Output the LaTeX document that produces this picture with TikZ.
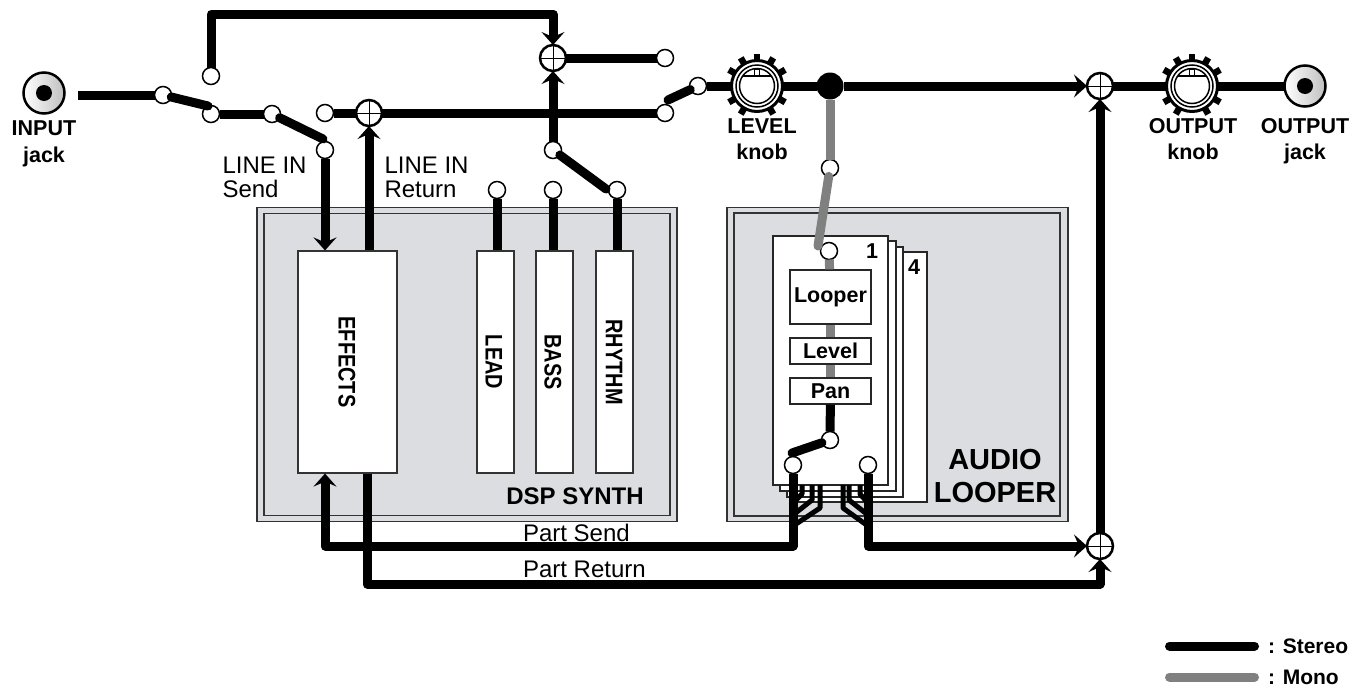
\documentclass[tikz,border=0pt]{standalone}
\usepackage{fontspec}
\setmainfont{Liberation Sans}
\newfontfamily\stripfont[FakeStretch=0.83]{Liberation Sans}
\usepackage{xcolor}
\definecolor{panelgray}{RGB}{220,221,224}
\definecolor{monogray}{RGB}{128,128,128}
\usetikzlibrary{arrows.meta, calc}
\newcommand{\knobface}[1]{%
  \foreach \ang in {-90,-60,-30,60,120,-120,-150,30,150}
    \draw[line width=6.5pt] ($(#1)+(\ang:24)$) -- ($(#1)+(\ang:32.5)$);
  \draw[line width=3pt, fill=white] (#1) circle (25.5);
  \draw[line width=1.5pt] (#1) circle (21);
  \draw[line width=1.5pt] (#1) circle (17.5);
  \draw[line width=1.3pt] ($(#1)+(-14.4,-10)$) -- ($(#1)+(14.4,-10)$);
  \draw[line width=1.1pt] ($(#1)+(-2.2,-17)$) rectangle ($(#1)+(2.2,-10)$);
}
\begin{document}
\begin{tikzpicture}[x=1pt, y=-1pt,
    panel/.style={rectangle, draw=black!80, line width=1.4pt, fill=panelgray, inner sep=0pt},
    pagebox/.style={rectangle, draw=black!85, line width=1.3pt, fill=white, inner sep=0pt},
    strip/.style={rectangle, draw=black!80, line width=1.1pt, fill=white, inner sep=0pt,
      minimum width=37pt, minimum height=222pt},
    stripname/.style={rotate=-90, font=\stripfont\fontsize{24}{24}\selectfont\bfseries},
    terminal/.style={circle, draw, line width=1.5pt, fill=white, inner sep=0pt, outer sep=0pt, minimum size=17pt},
    sumnode/.style={circle, draw, line width=2.5pt, fill=white, inner sep=0pt, outer sep=0pt, minimum size=26pt,
      path picture={\draw[line width=1pt]
        (path picture bounding box.north) -- (path picture bounding box.south)
        (path picture bounding box.west) -- (path picture bounding box.east);}},
    jack/.style={circle, draw, line width=2.5pt, inner sep=0pt, outer sep=0pt, minimum size=41pt,
      left color=white, right color=gray!50,
      path picture={\fill (path picture bounding box.center) circle (8);}},
    knob/.style={circle, inner sep=0pt, outer sep=0pt, minimum size=50pt},
    wire/.style={line width=9pt, line join=round},
    monowire/.style={wire, monogray},
    armwire/.style={wire, line cap=round},
    branch/.style={line width=5pt, line join=round},
    arrow/.style={wire, -{Stealth[length=13pt, width=23pt, inset=5pt]}},
    biglabel/.style={font=\bfseries\fontsize{21.5}{26.5}\selectfont, align=center},
    boxlabel/.style={font=\bfseries\fontsize{21.5}{21.5}\selectfont},
    plainlabel/.style={font=\fontsize{24}{24}\selectfont, align=left, anchor=west},
    legendlabel/.style={font=\bfseries\fontsize{21}{21}\selectfont, anchor=west}
]
\useasboundingbox (0,0) rectangle (1363,686);

% panels
\node[panel, minimum width=420pt, minimum height=314pt] (dspouter) at (467,364.5) {};
\node[panel, minimum width=406pt, minimum height=302pt] (dspinner) at (467,364.5) {};
\node[panel, minimum width=341pt, minimum height=314pt] (loopouter) at (897.5,364.5) {};
\node[panel, minimum width=326pt, minimum height=303pt] (loopinner) at (897,364.5) {};

% pages, back to front
\node[pagebox, minimum width=132pt, minimum height=250pt] (page4) at (861,377) {};
\node[pagebox, minimum width=116pt, minimum height=250pt] (page3) at (845,372) {};
\node[pagebox, minimum width=116pt, minimum height=250pt] (page2) at (838,366) {};
\node[pagebox, minimum width=115pt, minimum height=249pt] (page1) at (830.5,360.5) {};
\node[boxlabel] (num1) at (872,251) {1};
\node[boxlabel] (num4) at (914,267) {4};

% blocks
\node[strip, minimum width=99pt] (fxbox) at (347.5,362) {};
\node[stripname] (fxname) at (347,362) {EFFECTS};
\node[strip] (leadbox) at (495.5,362) {};
\node[stripname] (leadname) at (494,362) {LEAD};
\node[strip] (bassbox) at (554.5,362) {};
\node[stripname] (bassname) at (553,362) {BASS};
\node[strip] (rhythmbox) at (614.5,362) {};
\node[stripname] (rhythmname) at (614,362) {RHYTHM};
\node[pagebox, boxlabel, minimum width=81pt, minimum height=54pt] (looperbox) at (830.5,297) {Looper};
\node[pagebox, boxlabel, minimum width=81pt, minimum height=26pt] (levelbox) at (830.5,351) {Level};
\node[pagebox, boxlabel, minimum width=81pt, minimum height=26pt] (panbox) at (830.5,391) {Pan\hspace{6pt}};

% terminals
\node[terminal] (tin) at (163,95) {};
\node[terminal] (tmain) at (211,114) {};
\node[terminal] (tbypass) at (211,76) {};
\node[terminal] (tline) at (272,114) {};
\node[terminal] (tsend) at (325,150) {};
\node[terminal] (treturn) at (325,113) {};
\node[terminal] (tsum) at (665,58) {};
\node[terminal] (tdry) at (665,113) {};
\node[terminal] (tlevel) at (698,86) {};
\node[terminal] (tsynth) at (553,150) {};
\node[terminal] (tlead) at (497,190) {};
\node[terminal] (tbass) at (553,190) {};
\node[terminal] (trhythm) at (617,190) {};
\node[terminal] (tmono) at (830,168) {};
\node[terminal] (tloop) at (829,251) {};
\node[terminal] (tpan) at (830,440) {};
\node[terminal] (tpartl) at (793,465) {};
\node[terminal] (tpartr) at (868,465) {};

% mixers, jacks, knobs
\node[sumnode] (sumret) at (369,113) {};
\node[sumnode] (sumtop) at (553,58) {};
\node[sumnode] (sumout) at (1100,86) {};
\node[sumnode] (sumpart) at (1100,546) {};
\node[circle, fill=black, inner sep=0pt, outer sep=0pt, minimum size=27pt] (splitdot) at (830,86) {};
\node[jack] (injack) at (44,93) {};
\node[jack] (outjack) at (1305,86) {};
\node[knob] (levelknob) at (757,86) {};
\node[knob] (outknob) at (1192,86) {};

% free ends
\coordinate (instub) at (78,95);
\coordinate (armmain) at (208,106);
\coordinate (armsend) at (323,139);
\coordinate (armdry) at (668,100);
\coordinate (armmono) at (818,246);
\coordinate (armpart) at (792,453);
\coordinate (armrhythm) at (606,189);
\coordinate (topleft) at (211,14);
\coordinate (topright) at (553,14);

% stereo lines
\draw[wire] (instub) -- (tin);
\draw[armwire] (tin) -- (armmain);
\draw[wire] (tmain) -- (tline);
\draw[armwire] (tline) -- (armsend);
\draw[wire] (treturn) -- (sumret);
\draw[wire] (sumret) -- (tdry);
\draw[armwire] (tlevel) -- (armdry);
\draw[wire] (tsum) -- (sumtop);
\draw[arrow] (tbypass) -- (topleft) -- (topright) -- (sumtop);
\draw[arrow] (tsynth) -- (sumtop);
\draw[armwire] (tsynth) -- (armrhythm);
\draw[arrow] (tsend) -- (tsend |- fxbox.north);
\draw[arrow] (sumret |- fxbox.north) -- (sumret);
\draw[wire] (tlead) -- (tlead |- leadbox.north);
\draw[wire] (tbass) -- (tbass |- bassbox.north);
\draw[wire] (trhythm) -- (trhythm |- rhythmbox.north);
\draw[wire] (tlevel) -- (levelknob);
\draw[wire] (levelknob) -- (splitdot);
\draw[arrow] (splitdot) -- (sumout);
\draw[wire] (sumout) -- (outknob);
\draw[wire] (outknob) -- (outjack);
\draw[arrow] (sumpart) -- (sumout);

% mono lines
\draw[monowire] (splitdot) -- (tmono);
\draw[monowire, line cap=round] (tmono) -- (armmono);
\draw[monowire] (tloop) -- (looperbox);
\draw[monowire] (looperbox) -- (levelbox);
\draw[monowire] (levelbox) -- (panbox);

% part busses
\draw[wire] (panbox) -- (tpan);
\draw[armwire] (tpan) -- (armpart);
\foreach \bx/\by/\jy in {802/494/503, 812/500/515, 820/508/526}
  \draw[branch] (\bx,485) -- (\bx,\by) -- (tpartl |- {0,\jy});
\foreach \bx/\by/\jy in {860/494/503, 849/500/515, 843/508/526}
  \draw[branch] (\bx,485) -- (\bx,\by) -- (tpartr |- {0,\jy});
\draw[arrow] (tpartl) |- (tsend |- sumpart) -- (tsend |- fxbox.south);
\draw[arrow] (tpartr) |- (sumpart);
\coordinate (retleft) at (367,584);
\draw[arrow] (fxbox.south -| retleft) -- (retleft) -- (sumpart |- retleft) -- (sumpart);

% knob faces on top of the lines
\knobface{levelknob}
\knobface{outknob}

% labels
\node[biglabel] (inlabel) at (44,144) {INPUT\\jack};
\node[biglabel] (levellabel) at (762,139) {LEVEL\\knob};
\node[biglabel] (outknoblabel) at (1193,139) {OUTPUT\\knob};
\node[biglabel] (outjacklabel) at (1305,141) {OUTPUT\\jack};
\node[plainlabel] (sendlabel) at (219,177) {LINE IN\\Send};
\node[plainlabel] (returnlabel) at (381,177) {LINE IN\\Return};
\node[plainlabel] (partsend) at (519.5,533) {Part Send};
\node[plainlabel] (partreturn) at (519.5,569) {Part Return};
\node[font=\bfseries\fontsize{24}{24}\selectfont] (dspname) at (575,496) {DSP SYNTH};
\node[font=\bfseries\fontsize{29}{33}\selectfont, align=center] (loopname) at (995,476) {AUDIO\\LOOPER};

% legend
\coordinate (stereoa) at (1169.5,646);
\coordinate (stereob) at (1254.5,646);
\coordinate (monoa) at (1169.5,677);
\coordinate (monob) at (1254.5,677);
\draw[armwire] (stereoa) -- (stereob);
\draw[monowire, line cap=round] (monoa) -- (monob);
\node[legendlabel] (stereolabel) at (1264.5,646) {: Stereo};
\node[legendlabel] (monolabel) at (1264.5,677) {: Mono};
\end{tikzpicture}
\end{document}
